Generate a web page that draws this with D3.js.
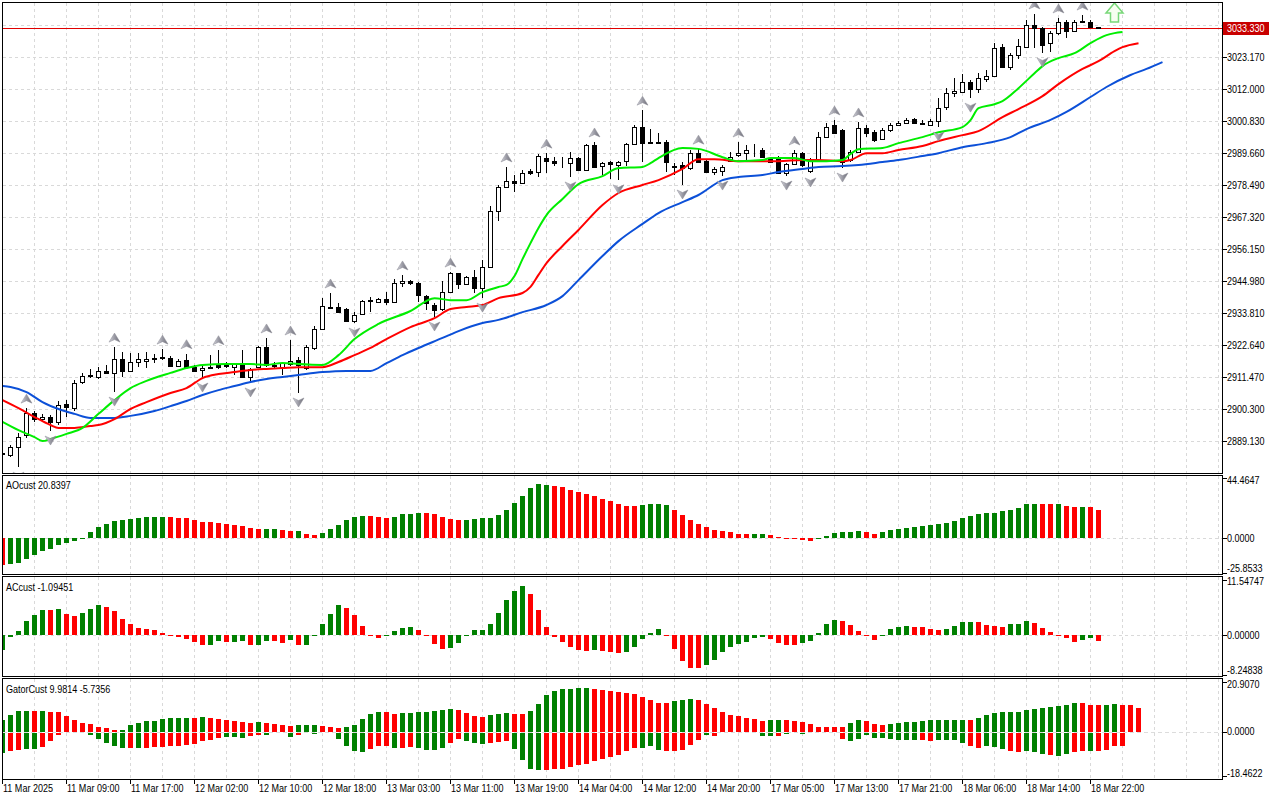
<!DOCTYPE html>
<html><head><meta charset="utf-8">
<script src="https://cdn.jsdelivr.net/npm/d3@7"></script>
<style>
html,body{margin:0;padding:0;background:#fff;overflow:hidden;}
svg{display:block;}
text{font-family:"Liberation Sans",Arial,sans-serif;font-size:11px;fill:#000;}
</style></head><body>
<svg id="c" width="1280" height="800"></svg>
<script>
// ---------------- DATA ----------------
const timeLabels = ["11 Mar 2025","11 Mar 09:00","11 Mar 17:00","12 Mar 02:00","12 Mar 10:00","12 Mar 18:00","13 Mar 03:00","13 Mar 11:00","13 Mar 19:00","14 Mar 04:00","14 Mar 12:00","14 Mar 20:00","17 Mar 05:00","17 Mar 13:00","17 Mar 21:00","18 Mar 06:00","18 Mar 14:00","18 Mar 22:00"];
const priceTicks = [3023.17,3012.00,3000.83,2989.66,2978.49,2967.32,2956.15,2944.98,2933.81,2922.64,2911.47,2900.30,2889.13];
const gridOnlyTicks = [3034.34];
const lastPrice = 3033.33;

const openP = [2885.0,2884.2,2887.0,2891.2,2898.9,2896.8,2897.5,2895.8,2902.0,2900.6,
2909.7,2911.8,2911.5,2913.6,2912.9,2917.8,2913.6,2916.7,2917.1,2918.1,
2918.4,2918.1,2915.3,2917.4,2914.9,2913.9,2914.6,2915.7,2915.3,2914.9,
2916.0,2911.5,2914.9,2921.9,2915.5,2914.9,2916.0,2917.4,2914.6,2921.6,
2928.2,2935.9,2935.9,2935.2,2931.0,2933.4,2938.0,2937.6,2938.7,2937.6,
2944.3,2945.0,2944.3,2939.7,2936.6,2935.2,2941.1,2947.8,2943.9,2946.4,
2942.5,2949.9,2969.4,2977.8,2979.9,2979.2,2983.4,2983.0,2987.9,2986.8,
2986.5,2986.1,2987.9,2983.7,2992.4,2985.1,2986.5,2985.5,2986.8,2992.8,
2998.7,2993.5,2993.5,2993.5,2985.1,2985.4,2984.4,2989.6,2986.8,2983.0,
2983.4,2986.8,2988.9,2989.6,2990.4,2990.7,2987.9,2987.9,2982.7,2985.8,
2989.6,2983.4,2987.2,2995.2,2999.4,2997.7,2987.2,2990.0,2998.4,2997.0,
2994.5,2997.7,2999.4,3000.1,3001.5,3000.1,2999.4,3000.8,3005.7,3010.6,
3010.9,3014.4,3012.0,3015.5,3016.5,3026.7,3019.7,3023.9,3026.7,3034.4,
3033.3,3028.1,3031.5,3035.4,3032.2,3035.7,3035.4,3033.6];
const highP = [2885.4,2887.7,2891.9,2900.6,2899.6,2898.6,2898.2,2903.1,2903.4,2910.4,
2912.9,2914.3,2914.9,2915.7,2921.9,2920.2,2919.8,2919.8,2920.2,2919.5,
2921.2,2918.8,2917.8,2919.6,2915.7,2915.3,2919.0,2921.0,2916.7,2916.4,
2920.9,2914.6,2922.3,2925.1,2916.7,2916.7,2924.4,2918.4,2922.6,2929.3,
2939.0,2940.8,2937.3,2935.5,2934.1,2938.3,2939.4,2939.0,2941.1,2945.7,
2947.1,2945.3,2944.6,2940.1,2937.3,2944.9,2948.1,2947.9,2946.7,2948.8,
2952.3,2971.1,2978.5,2984.8,2982.0,2983.7,2984.1,2989.3,2989.6,2988.2,
2988.2,2990.0,2988.2,2992.8,2993.5,2986.5,2986.8,2986.8,2993.1,2999.4,
3004.6,2998.0,2996.6,2994.2,2986.1,2986.5,2990.7,2991.0,2987.2,2984.8,
2985.4,2990.0,2993.5,2992.4,2992.8,2991.4,2988.2,2988.6,2986.1,2990.7,
2990.0,2987.9,2997.0,3000.1,3001.2,2998.0,2990.7,3000.5,2999.4,2997.7,
2998.4,3000.1,3000.8,3001.9,3001.9,3001.2,3001.5,3008.8,3012.4,3016.0,
3017.2,3015.1,3017.6,3018.6,3028.1,3027.7,3024.6,3029.5,3036.1,3038.2,
3033.6,3032.2,3036.8,3036.1,3036.1,3037.8,3036.1,3033.8];
const lowP = [2884.2,2883.5,2880.0,2890.2,2895.8,2895.8,2892.6,2894.7,2897.5,2899.6,
2909.0,2911.1,2910.8,2912.5,2906.2,2911.5,2913.2,2914.9,2914.6,2916.4,
2917.4,2914.9,2914.9,2914.3,2913.2,2911.1,2914.3,2914.3,2914.6,2912.2,
2911.1,2909.4,2914.6,2914.9,2914.6,2912.2,2915.3,2905.9,2913.9,2920.9,
2927.9,2935.5,2933.8,2930.7,2930.3,2933.1,2934.1,2937.3,2936.6,2937.3,
2942.9,2943.6,2937.6,2934.8,2932.4,2934.5,2940.8,2942.2,2943.6,2940.8,
2939.0,2949.5,2965.9,2977.4,2976.0,2978.8,2982.0,2981.3,2982.7,2985.1,
2984.4,2981.3,2983.4,2983.4,2984.4,2982.0,2980.6,2980.3,2985.1,2992.4,
2986.5,2992.8,2992.8,2983.0,2982.0,2978.5,2983.7,2986.1,2982.7,2982.0,
2981.6,2986.5,2988.2,2987.2,2988.2,2987.9,2986.1,2982.3,2981.6,2985.4,
2984.8,2982.7,2986.8,2994.9,2996.3,2984.4,2986.5,2989.6,2995.2,2993.5,
2994.2,2997.0,2999.1,2999.8,2999.8,2999.6,2999.4,2998.7,3004.6,3009.2,
3010.6,3008.8,3010.6,3014.4,3016.2,3019.3,3018.6,3022.5,3026.3,3026.3,
3024.6,3024.9,3030.8,3029.8,3031.9,3035.0,3033.3,3033.1];
const closeP = [2884.6,2887.0,2890.5,2898.9,2896.8,2897.5,2895.8,2901.7,2901.0,2909.4,
2911.8,2912.2,2913.6,2912.9,2917.8,2913.6,2916.7,2917.8,2917.8,2917.8,
2918.1,2915.3,2917.1,2914.9,2913.6,2914.6,2914.9,2914.9,2915.7,2916.0,
2911.5,2914.3,2921.9,2915.7,2915.0,2916.4,2917.1,2915.7,2921.9,2928.2,
2936.2,2935.7,2934.1,2931.0,2933.1,2938.0,2938.3,2938.7,2937.6,2944.3,
2945.0,2944.3,2940.1,2937.3,2934.8,2941.1,2947.8,2943.9,2946.4,2942.5,
2949.9,2969.4,2977.8,2979.9,2979.2,2982.7,2982.7,2988.6,2986.8,2986.1,
2986.4,2987.9,2983.7,2992.4,2984.8,2986.1,2985.8,2986.5,2992.8,2998.7,
2993.1,2993.1,2993.2,2986.5,2984.8,2984.4,2989.6,2986.5,2983.0,2984.1,
2984.8,2988.2,2989.6,2990.7,2990.3,2988.2,2986.5,2982.7,2985.8,2989.6,
2985.4,2987.2,2995.2,2998.7,2996.6,2986.5,2990.0,2998.4,2996.6,2994.2,
2997.7,2999.4,3000.1,3001.2,3000.1,2999.8,3000.8,3005.3,3010.6,3011.3,
3014.4,3012.0,3015.8,3016.5,3026.3,3019.7,3023.9,3027.0,3034.4,3033.3,
3027.4,3031.5,3035.4,3032.2,3035.4,3035.4,3033.6,3033.33];

const fractalUp = [3,14,20,23,27,33,36,41,50,56,63,68,74,80,87,92,99,104,107,129,132,135];
const fractalDown = [2,6,14,25,31,37,44,54,60,71,77,85,90,98,101,105,117,121,130];
const signalIdx = [139];
const signalPrice = [3035.4];

// Alligator lines: [bar index, price]
const jawLine = [[0,2908.3],[1,2908.0],[3,2906.2],[5,2902.7],[7,2900.3],[9,2898.6],[11,2897.2],[14,2897.2],[16,2897.9],[19,2899.6],[21,2901.3],[23,2903.1],[25,2905.2],[27,2906.9],[29,2908.3],[31,2909.7],[33,2910.8],[35,2911.5],[37,2912.2],[40,2913.2],[43,2913.6],[46,2913.6],[48,2916.3],[50,2919.1],[52,2921.6],[55,2925.1],[57,2927.5],[60,2930.3],[62,2931.4],[65,2934.1],[68,2936.6],[70,2939.7],[72,2945.3],[75,2953.7],[77,2958.9],[80,2964.9],[82,2968.7],[85,2972.5],[87,2975.0],[90,2980.2],[92,2981.3],[95,2982.0],[97,2983.0],[100,2984.1],[102,2984.8],[105,2985.1],[107,2985.5],[110,2986.5],[112,2987.2],[115,2988.6],[117,2989.6],[120,2991.7],[123,2993.1],[126,2995.2],[128,2998.0],[131,3001.2],[133,3004.0],[136,3009.2],[138,3012.7],[141,3016.9],[143,3019.0],[145,3021.4]];
const teethLine = [[0,2903.4],[2,2900.6],[4,2897.5],[6,2894.7],[7,2893.7],[9,2893.7],[11,2894.4],[12,2894.7],[14,2896.8],[16,2900.3],[18,2902.7],[21,2905.9],[23,2907.6],[25,2911.1],[27,2912.5],[29,2913.2],[31,2913.9],[33,2914.3],[35,2914.6],[37,2914.9],[40,2914.9],[42,2916.7],[44,2919.1],[46,2921.6],[48,2924.7],[51,2928.9],[54,2932.0],[56,2935.2],[58,2935.9],[60,2936.6],[62,2939.0],[65,2940.8],[66,2942.9],[67,2947.1],[68,2951.2],[70,2957.2],[72,2962.8],[75,2971.5],[77,2975.7],[80,2978.5],[82,2980.2],[85,2984.1],[87,2987.5],[89,2987.5],[92,2986.8],[95,2986.8],[97,2986.8],[100,2987.2],[102,2987.2],[105,2986.8],[106,2987.2],[108,2989.6],[110,2989.6],[112,2990.7],[115,2992.1],[117,2993.8],[120,2995.9],[122,2997.3],[125,3002.2],[127,3005.0],[130,3009.5],[132,3013.7],[135,3019.0],[137,3021.7],[139,3025.2],[140,3026.6],[142,3028.0]];
const lipsLine = [[0,2895.8],[2,2892.9],[4,2890.5],[5,2889.1],[6,2889.8],[8,2891.6],[10,2893.7],[12,2898.6],[14,2903.4],[16,2907.6],[18,2910.1],[21,2912.9],[23,2914.6],[25,2915.7],[28,2916.0],[31,2916.0],[33,2915.7],[35,2916.4],[37,2916.0],[40,2915.7],[42,2919.1],[44,2924.7],[47,2930.0],[51,2934.5],[54,2939.0],[56,2938.3],[58,2938.3],[60,2941.1],[62,2942.9],[63,2943.6],[64,2946.7],[65,2952.6],[66,2958.2],[67,2963.5],[68,2968.0],[70,2973.6],[72,2978.8],[75,2981.6],[77,2984.4],[80,2984.8],[81,2986.1],[82,2987.9],[85,2991.4],[87,2991.1],[90,2988.2],[92,2986.8],[95,2987.2],[96,2987.9],[99,2987.9],[101,2986.8],[103,2986.8],[105,2987.2],[106,2989.3],[107,2991.0],[110,2991.4],[112,2993.1],[115,2995.2],[117,2996.9],[120,2998.7],[121,3001.1],[122,3005.3],[124,3006.7],[125,3007.8],[127,3012.3],[129,3017.5],[130,3020.0],[132,3022.8],[134,3024.5],[136,3028.0],[138,3030.8],[139,3031.5],[140,3031.9]];

// AO histogram
const aoValues = [-20.0,-19.5,-18.3,-15.8,-12.8,-9.9,-7.9,-4.9,-3.5,-2.0,
-0.5,4.4,7.9,10.4,12.8,13.3,14.3,14.8,15.6,15.7,
15.8,15.6,14.8,14.7,13.6,12.1,11.9,11.4,10.6,9.9,
8.9,7.4,6.7,6.9,7.0,5.9,5.2,5.3,3.2,2.2,
4.0,6.7,9.6,13.3,15.8,16.6,16.5,15.6,15.1,15.6,
17.5,18.0,18.8,18.3,17.8,15.6,14.1,13.3,13.4,14.3,
14.8,14.9,17.3,20.8,25.9,31.4,37.1,40.0,39.5,38.8,
38.1,35.8,34.1,32.6,31.1,29.2,27.4,25.2,24.0,24.1,
24.5,25.0,25.5,24.7,20.8,17.3,13.3,10.4,8.2,5.9,
5.2,4.7,3.0,2.9,3.0,3.1,2.2,0.7,-0.5,-1.0,
-1.5,-2.0,-0.5,1.2,3.7,4.4,4.7,5.2,4.2,3.0,
4.4,5.9,6.7,7.2,8.2,8.9,9.9,10.6,11.4,12.6,
14.6,16.3,17.5,18.3,18.8,20.0,21.0,22.5,25.0,25.5,
25.4,25.3,25.5,23.7,23.0,23.1,22.9,20.8397];
const aoColors = "RGGGGGGGGGGGGGGGGGGGGRRRRRRRRRRRRGGRRGRRGGGGGGRRRGGGGRRRRRGGGGGGGGGGGRRRRRRRRRRRGGGGRRRRRRRRRRGGRRRRRRGGGGGGRRGGGGGGGGGGGGGGGGGGGGRRGRRGRR";

// AC histogram
const acValues = [-3.1,-0.3,1.0,2.9,4.2,5.3,5.2,5.5,4.4,4.0,
4.6,5.6,6.25,6.0,5.1,3.5,2.3,1.5,1.25,1.1,
0.6,-0.15,-0.35,-0.76,-1.4,-2.1,-1.9,-1.2,-1.4,-1.35,
-1.2,-2.0,-1.95,-1.2,-1.25,-1.6,-0.9,-2.0,-1.95,-0.05,
2.3,4.4,6.25,5.8,4.2,1.9,-0.05,-0.55,-0.1,0.9,
1.5,1.7,1.1,-0.1,-1.8,-2.85,-2.6,-1.6,-0.05,1.1,
1.15,2.4,4.65,7.3,9.2,10.2,8.6,5.3,1.7,-0.35,
-1.4,-2.4,-3.05,-3.3,-3.1,-3.3,-3.5,-3.7,-3.45,-2.4,
-0.8,0.4,1.3,-0.15,-2.85,-5.35,-6.7,-6.8,-6.2,-5.1,
-3.5,-2.4,-1.7,-1.3,-0.6,-0.4,-0.8,-1.6,-2.0,-2.05,
-1.6,-1.1,0.4,2.4,3.3,2.9,2.1,1.0,-0.2,-1.0,
-0.05,1.25,1.65,1.9,1.85,1.7,1.3,1.2,1.3,1.9,
2.7,2.75,2.7,2.2,1.9,1.7,2.3,2.35,3.0,2.6,
1.5,0.7,-0.2,-0.55,-1.4,-0.9,-0.55,-1.09451];
const acColors = "GGGGGGRGRRGGGRRRRRRRRRRRRRGGRGGRGGRRGRGGGGGRRRRRGGGGRRRRGGGGGGGGGGRRRRRRRRGRRRGGGGGRRRRRGGGGGGGGRRRRGGGGGRRRRRGGGGRRRRGGGGRRRRGGGRRRRRRGGR";

// Gator oscillator (upper > 0, lower < 0)
const gatorUp = [5.0,7.1,8.8,8.85,8.7,8.9,8.5,8.4,6.7,5.0,
3.8,3.35,2.1,1.5,0.6,1.0,2.9,3.9,4.6,4.65,
5.4,5.9,5.95,6.0,5.9,6.3,5.9,5.3,4.9,4.6,
4.2,3.9,3.95,3.6,3.2,2.9,2.5,2.9,2.95,3.0,
2.5,2.1,1.5,2.1,2.9,5.4,7.7,8.4,8.35,7.7,
7.75,8.1,8.4,8.45,8.8,9.2,9.6,9.2,8.1,6.7,
6.3,7.1,7.7,7.75,7.4,7.3,8.8,11.7,15.6,17.3,
18.0,18.1,18.4,18.45,18.1,17.7,17.3,16.6,16.3,16.05,
14.7,13.4,12.3,12.25,13.0,13.4,13.8,13.4,11.9,10.05,
8.2,7.1,6.6,6.0,5.3,4.6,5.0,5.05,5.0,4.6,
4.2,3.35,2.1,2.05,2.0,1.95,3.8,5.0,4.6,3.35,
2.9,3.35,3.9,4.2,4.3,4.6,4.9,5.0,5.05,5.1,
5.15,5.1,5.9,7.0,8.1,8.15,8.2,8.5,9.2,9.6,
10.05,10.6,11.0,11.45,12.3,12.25,11.45,11.4,11.45,11.85,
11.4,11.35,9.9814];
const gatorUpColors = "GGGGRGRRRRRRRRRGGGGGGGGGRGRRRRRRGRRRRGGGRRRGGGGGRRGGGGGGGRRRRGGGRRGGGGGGGGRRRRRRRRRRGGGRRRRRRRRRGGRRRRRRRRGGRRRGGGGGGGGGGRGGGGGGGGGGGGGRRRGGRRR";
const gatorDown = [-8.8,-8.1,-7.4,-7.3,-7.0,-6.3,-4.0,-1.1,-0.15,-0.1,
-0.3,-1.1,-2.8,-4.75,-6.0,-6.6,-6.55,-6.6,-6.55,-6.5,
-6.45,-6.1,-5.9,-5.4,-4.9,-3.9,-3.35,-2.65,-2.1,-2.1,
-2.5,-1.7,-1.1,-1.15,-0.4,-0.55,-2.1,-1.1,-0.3,-0.7,
-0.3,-0.35,-2.8,-5.7,-8.2,-8.25,-7.0,-6.1,-6.1,-6.6,
-6.55,-6.5,-6.55,-7.4,-7.45,-6.6,-4.5,-2.8,-3.6,-4.5,
-4.9,-4.5,-4.05,-3.6,-7.0,-11.6,-15.4,-15.8,-15.75,-15.4,
-15.35,-14.8,-14.0,-13.3,-12.0,-11.2,-10.3,-9.6,-7.8,-6.6,
-6.55,-5.7,-7.4,-8.2,-7.8,-7.4,-5.3,-3.2,-1.1,-1.5,
-0.4,-0.5,-0.25,-0.15,-0.1,-1.5,-1.55,-1.6,-0.7,-0.4,
-0.7,-0.3,-0.2,-0.4,-0.6,-2.8,-3.9,-2.8,-1.1,-2.5,
-2.55,-2.9,-3.2,-3.25,-3.5,-3.55,-3.6,-3.5,-3.45,-3.55,
-4.75,-6.1,-6.85,-6.1,-6.15,-7.3,-7.8,-8.5,-8.2,-8.25,
-9.1,-9.6,-9.9,-9.1,-8.3,-8.2,-7.8,-7.8,-7.4,-6.1,
-5.7356];
const gatorDownColors = "GRRGGRRRRGGGGGGGRGRRRRRRRRRRGGGRRGRGGRRGRGGGGGRRRGRRGGGGRRGGGRRRGGGGRRRRRRRRRRRRGGGRRRRRGRRRGRGGGRGGGGGGGRGGGGGGGGGRRGGGGRRGGGRRGGGRGGRRGRR";

// ---------------- DRAW ----------------
const svg = d3.select("#c");
const XL = 2.5, XR = 1222.5;
const P = {main:[2.5,473.5], ao:[475.5,574.5], ac:[576.5,676.5], gator:[678.5,779.5]};
const x = d3.scaleLinear().domain([0,152.5]).range([2,1222]);
const yP = d3.scaleLinear().domain([2889.13,3023.17]).range([441,57]);
const yAO = d3.scaleLinear().domain([-25.8533,44.4647]).range([573,478]);
const yAC = d3.scaleLinear().domain([-8.24838,11.54747]).range([675,580]);
const yG = d3.scaleLinear().domain([-18.4622,20.907]).range([776,682]);
const GREEN="#008000", RED="#ff0000", GRID="#d9d9d9";

const defs = svg.append("defs");
Object.entries(P).forEach(([k,[t,b]])=>{
  defs.append("clipPath").attr("id","clip-"+k).append("rect")
    .attr("x",XL+0.5).attr("y",t+0.5).attr("width",XR-XL-1).attr("height",b-t-1);
});
const grad = defs.append("linearGradient").attr("id","fr").attr("x1","0").attr("x2","1").attr("y1","0").attr("y2","0");
grad.append("stop").attr("offset","0").attr("stop-color","#d4d4dc");
grad.append("stop").attr("offset","0.5").attr("stop-color","#9a9aa4");
grad.append("stop").attr("offset","1").attr("stop-color","#6e6e78");

const gridXs = d3.range(4,153,4).map(j=>x(j)).filter(v=>v<XR-2);

function panelGrid(key, hLines){
  const [t,b]=P[key];
  const g = svg.append("g").attr("clip-path","url(#clip-"+key+")").attr("shape-rendering","crispEdges");
  g.selectAll("line.v").data(gridXs).join("line")
    .attr("x1",d=>d+0.5).attr("x2",d=>d+0.5).attr("y1",t).attr("y2",b)
    .attr("stroke",GRID).attr("stroke-dasharray","3,3");
  g.selectAll("line.h").data(hLines).join("line")
    .attr("x1",XL).attr("x2",XR).attr("y1",d=>Math.round(d)+0.5).attr("y2",d=>Math.round(d)+0.5)
    .attr("stroke",GRID).attr("stroke-dasharray","3,3");
  return g;
}

// ---- Main panel
panelGrid("main", priceTicks.concat(gridOnlyTicks).map(p=>yP(p)));
const gm = svg.append("g").attr("clip-path","url(#clip-main)");

// current price line
gm.append("line").attr("x1",XL).attr("x2",XR)
  .attr("y1",Math.round(yP(lastPrice))+0.5).attr("y2",Math.round(yP(lastPrice))+0.5)
  .attr("stroke","#e00000").attr("shape-rendering","crispEdges");

// candles
const candles = openP.map((o,j)=>({j,o,h:highP[j],l:lowP[j],c:closeP[j]}));
const cg = gm.append("g").attr("shape-rendering","crispEdges");
cg.selectAll("line.w").data(candles).join("line")
  .attr("x1",d=>x(d.j)+0.5).attr("x2",d=>x(d.j)+0.5)
  .attr("y1",d=>yP(d.h)).attr("y2",d=>yP(d.l)).attr("stroke","#000");
cg.selectAll("rect.b").data(candles).join("rect")
  .attr("x",d=>x(d.j)-1.5).attr("width",4)
  .attr("y",d=>Math.round(Math.min(yP(d.o),yP(d.c)))+0.5)
  .attr("height",d=>Math.max(0,Math.round(Math.abs(yP(d.o)-yP(d.c)))))
  .attr("fill",d=>d.c>=d.o?"#fff":"#000").attr("stroke","#000");

// alligator
function aline(data,color){
  gm.append("path").datum(data)
    .attr("d",d3.line().x(d=>x(d[0])+0.5).y(d=>yP(d[1])).curve(d3.curveMonotoneX))
    .attr("fill","none").attr("stroke",color).attr("stroke-width",2);
}
aline(jawLine,"#0c50d8");
aline(teethLine,"#ff0000");
aline(lipsLine,"#00ee00");

// fractals
gm.selectAll("path.fu").data(fractalUp).join("path")
  .attr("transform",j=>`translate(${x(j)+0.5},${yP(highP[j])-9})`)
  .attr("d","M0,-5 L5.5,4 L0,1.5 L-5.5,4 Z").attr("fill","url(#fr)").attr("stroke","#8c8c96").attr("stroke-width",0.5);
gm.selectAll("path.fd").data(fractalDown).join("path")
  .attr("transform",j=>`translate(${x(j)+0.5},${yP(lowP[j])+9})`)
  .attr("d","M0,5 L5.5,-4 L0,-1.5 L-5.5,-4 Z").attr("fill","url(#fr)").attr("stroke","#8c8c96").attr("stroke-width",0.5);

// signal arrow
gm.selectAll("path.sig").data(signalIdx).join("path")
  .attr("transform",(j,i)=>`translate(${x(j)+0.5},${yP(signalPrice[i])})`)
  .attr("d","M-4,0 L4,0 L4,-9 L8.5,-9 L0,-19 L-8.5,-9 L-4,-9 Z")
  .attr("fill","#f7fff0").attr("stroke","#78d878").attr("stroke-width",1.5);

// price axis
const axg = svg.append("g");
axg.selectAll("line").data(priceTicks.concat(gridOnlyTicks)).join("line")
  .attr("x1",XR).attr("x2",XR+4).attr("y1",d=>Math.round(yP(d))+0.5).attr("y2",d=>Math.round(yP(d))+0.5)
  .attr("stroke","#000").attr("shape-rendering","crispEdges");
axg.selectAll("text").data(priceTicks).join("text")
  .attr("x",1227).attr("y",d=>yP(d)+4).text(d=>d.toFixed(3));
// last price label
const ly = yP(lastPrice);
svg.append("rect").attr("x",1223).attr("y",Math.round(ly)-6).attr("width",46).attr("height",13).attr("fill","#c80000");
svg.append("text").attr("x",1227).attr("y",ly+4).style("fill","#fff").text(lastPrice.toFixed(3));

// ---- Sub panels
function histPanel(key, vals, cols, yS, labelText, axisVals, axisFmt, labelY){
  panelGrid(key, [yS(0)]);
  const g = svg.append("g").attr("clip-path","url(#clip-"+key+")").attr("shape-rendering","crispEdges");
  const y0 = Math.round(yS(0));
  g.selectAll("rect").data(vals).join("rect")
    .attr("x",(d,j)=>x(j)-2).attr("width",5)
    .attr("y",d=>d>=0?Math.round(yS(d)):y0)
    .attr("height",d=>Math.abs(Math.round(yS(d))-y0))
    .attr("fill",(d,j)=>cols[j]==="G"?GREEN:RED);
  svg.append("text").attr("x",6).attr("y",labelY).text(labelText);
  const [t,b]=P[key];
  axisVals.forEach((v,i)=>{
    let yy = yS(v);
    let ty = i===0? t+8.5 : (i===2? b-2.5 : yy+3.5);
    const ly2 = Math.round(Math.min(Math.max(yy,t+1),b-1))+0.5;
    svg.append("line").attr("x1",XR).attr("x2",XR+4).attr("y1",ly2).attr("y2",ly2)
      .attr("stroke","#000").attr("shape-rendering","crispEdges");
    svg.append("text").attr("x",1227).attr("y",ty).text(axisFmt(v));
  });
}
histPanel("ao", aoValues, aoColors, yAO, "AOcust 20.8397", [44.4647,0,-25.8533], v=>v.toFixed(4), 489);
histPanel("ac", acValues, acColors, yAC, "ACcust -1.09451", [11.54747,0,-8.24838], v=>v.toFixed(5), 591);

// Gator
panelGrid("gator", []);
{
  const g = svg.append("g").attr("clip-path","url(#clip-gator)").attr("shape-rendering","crispEdges");
  const y0 = Math.round(yG(0));
  g.selectAll("rect.u").data(gatorUp).join("rect")
    .attr("x",(d,j)=>x(j)-2).attr("width",5)
    .attr("y",d=>Math.round(yG(d))).attr("height",d=>Math.max(0,y0-Math.round(yG(d))))
    .attr("fill",(d,j)=>gatorUpColors[j]==="G"?GREEN:RED);
  g.selectAll("rect.d").data(gatorDown).join("rect")
    .attr("x",(d,j)=>x(j)-2).attr("width",5)
    .attr("y",y0+1).attr("height",d=>Math.max(0,Math.round(yG(d))-y0-1))
    .attr("fill",(d,j)=>gatorDownColors[j]==="G"?GREEN:RED);
  g.append("line").attr("x1",XL).attr("x2",XR).attr("y1",y0+0.5).attr("y2",y0+0.5)
    .attr("stroke","#dcdcdc").attr("stroke-dasharray","4,3");
  svg.append("text").attr("x",6).attr("y",693).text("GatorCust 9.9814 -5.7356");
  const [t,b]=P.gator;
  [[20.907,t+9.5,"20.9070"],[0,yG(0)+3.5,"0.0000"],[-18.4622,b-2.5,"-18.4622"]].forEach(([v,ty,s])=>{
    const yy=Math.round(Math.min(Math.max(yG(v),t+1),b-1))+0.5;
    svg.append("line").attr("x1",XR).attr("x2",XR+4).attr("y1",yy).attr("y2",yy).attr("stroke","#000").attr("shape-rendering","crispEdges");
    svg.append("text").attr("x",1227).attr("y",ty).text(s);
  });
}

// panel borders
Object.values(P).forEach(([t,b])=>{
  svg.append("rect").attr("x",XL).attr("y",t).attr("width",XR-XL).attr("height",b-t)
    .attr("fill","none").attr("stroke","#000").attr("shape-rendering","crispEdges");
});

// time axis
const tg = svg.append("g");
timeLabels.forEach((s,i)=>{
  const xx = x(i*8);
  tg.append("line").attr("x1",xx+0.5).attr("x2",xx+0.5).attr("y1",779.5).attr("y2",783.5).attr("stroke","#000").attr("shape-rendering","crispEdges");
  tg.append("text").attr("x",xx+1).attr("y",792).text(s);
});

// narrow the text like the terminal's condensed font
svg.selectAll("text").each(function(){
  const w = this.getComputedTextLength();
  if (w>0) d3.select(this).attr("textLength", (w*0.82).toFixed(1)).attr("lengthAdjust","spacingAndGlyphs");
});
</script>
</body></html>
